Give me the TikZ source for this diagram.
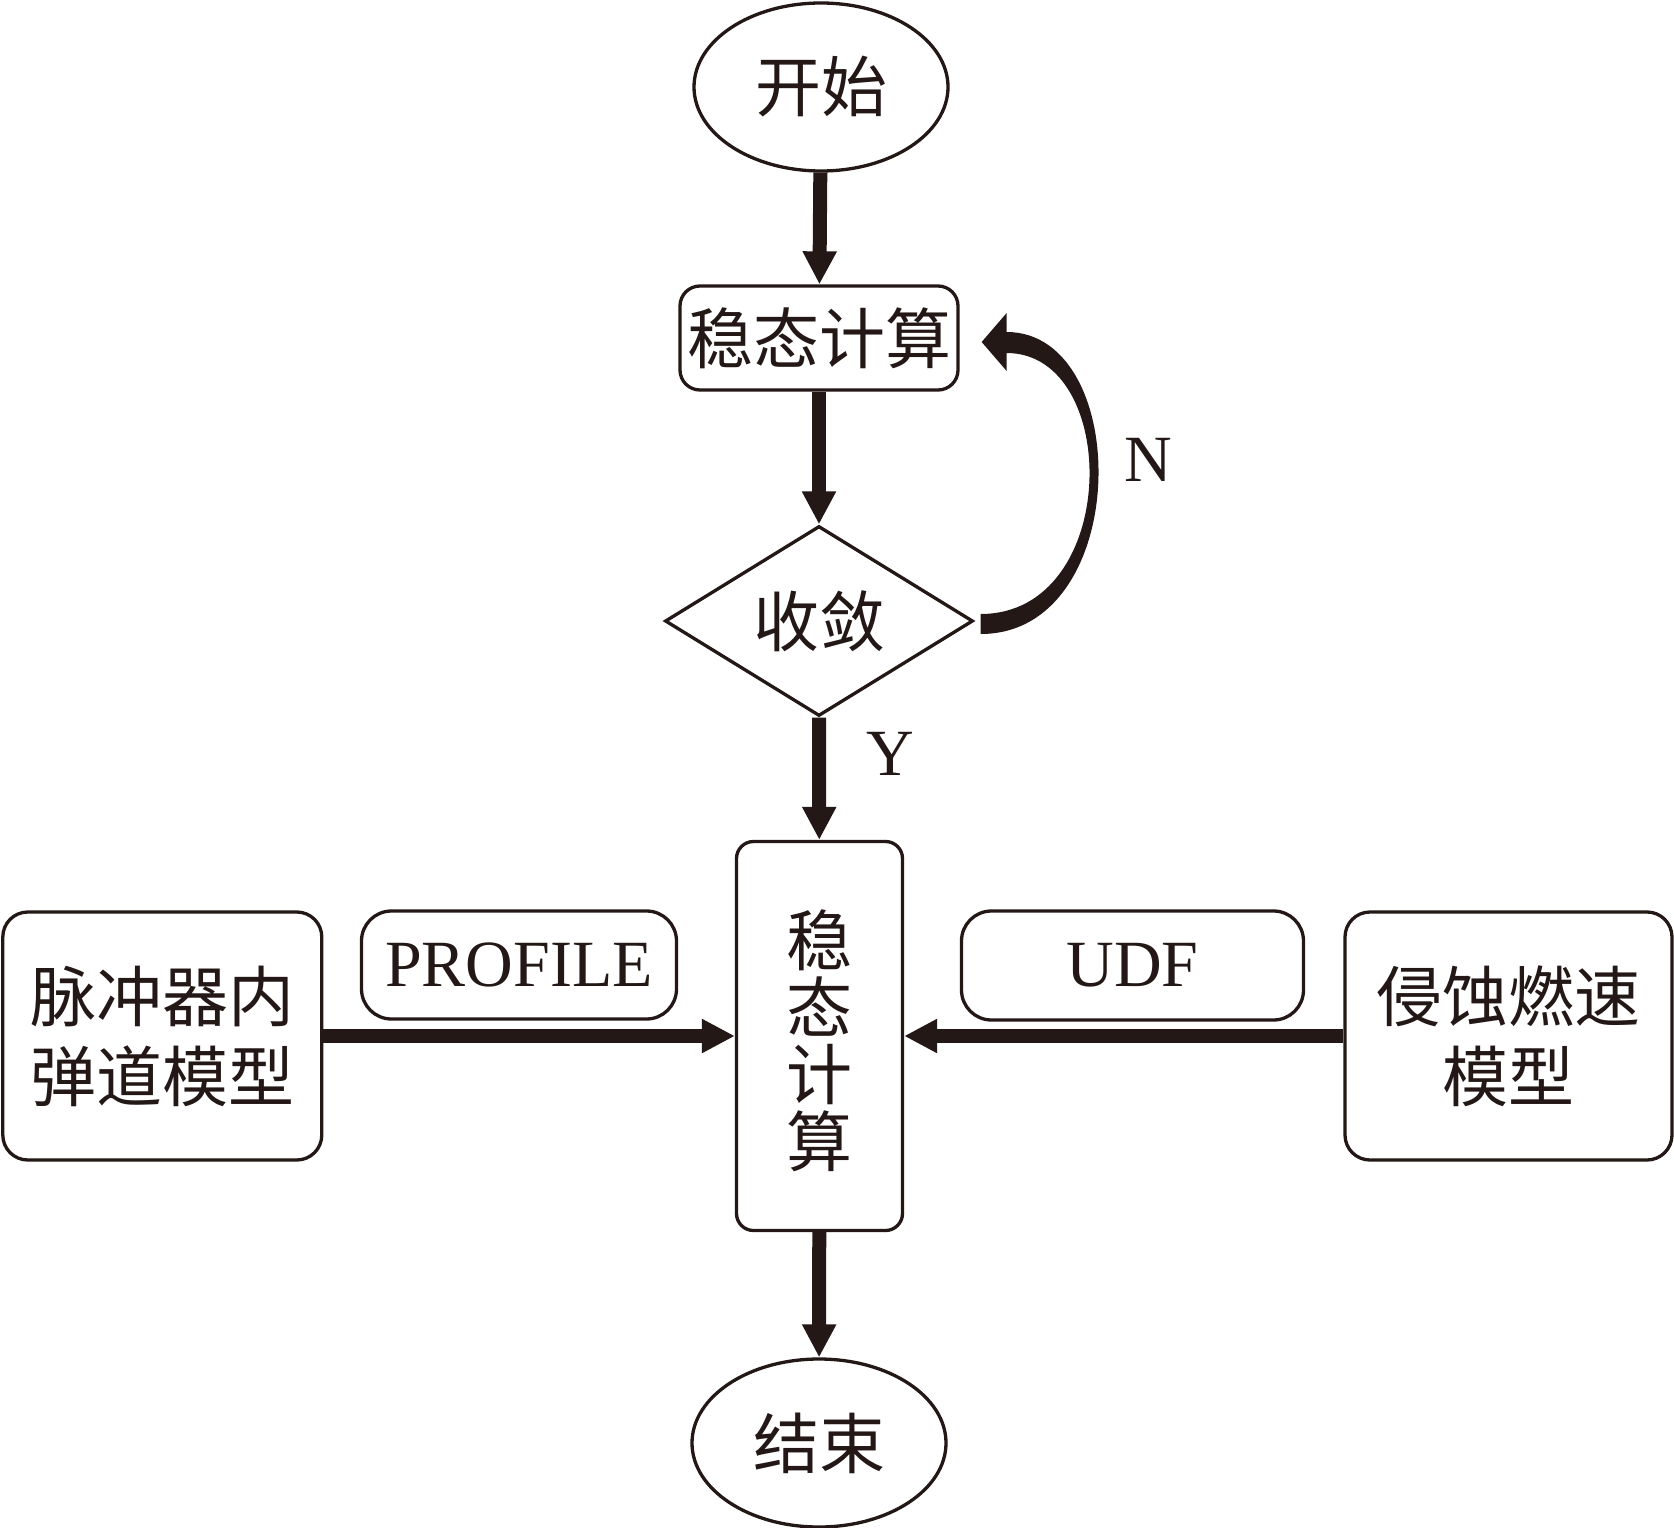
\documentclass[tikz,border=0pt]{standalone}
\usepackage{fontspec}
\setmainfont{Liberation Serif}
\newfontfamily\cjk{Noto Sans CJK SC}
\usetikzlibrary{shapes.geometric,arrows.meta,calc}
\definecolor{ink}{HTML}{231815}
\begin{document}
\begin{tikzpicture}[x=1pt,y=-1pt,ink,line width=3.3pt,
  every node/.style={inner sep=0pt,text=ink},
  cjkf/.style={font=\cjk\fontsize{66}{80}\selectfont},
  cjkv/.style={font=\cjk\fontsize{66}{67}\selectfont},
  latf/.style={font=\fontsize{66}{70}\selectfont},
  oval/.style={ellipse,draw=ink,minimum width=254pt,minimum height=168pt,cjkf},
  rbox/.style={rectangle,draw=ink,rounded corners=#1},
  flow/.style={line width=14pt,-{Triangle[width=32pt,length=33pt]}},
]
\fill[white] (0,0) rectangle (1674,1528);
\useasboundingbox (0,0) rectangle (1674,1528);

\node[oval] (start) at (821,87) {开始};
\node[rbox=20pt,cjkf,minimum width=278pt,minimum height=104pt] (s1) at (819,338) {稳态计算};
\node[diamond,draw=ink,aspect=1.62,minimum width=308pt,minimum height=190pt,cjkf] (dia) at (819,621) {收敛};
\node[rbox=17pt,minimum width=166pt,minimum height=389pt,
      label={[name=s2t,cjkv,align=center,yshift=-5pt]center:{稳\\态\\计\\算}}] (s2) at (819.5,1036) {};
\node[rbox=25pt,cjkf,align=center,minimum width=319pt,minimum height=248pt] (left) at (162.3,1036) {脉冲器内\\弹道模型};
\node[rbox=30pt,latf,minimum width=315pt,minimum height=108pt] (prof) at (519,965) {PROFILE};
\node[rbox=30pt,latf,minimum width=342pt,minimum height=109pt] (udf) at (1132.5,965.5) {UDF};
\node[rbox=25pt,cjkf,align=center,minimum width=327pt,minimum height=248pt] (right) at (1508.5,1036) {侵蚀燃速\\模型};
\node[oval] (end) at (819,1443) {结束};
\node[latf] (N) at (1148,460) {N};
\node[latf] (Y) at (890,754) {Y};

\draw[flow] (start) -- (s1);
\draw[flow] (s1) -- (dia);
\draw[flow] (dia) -- (s2);
\draw[flow] (s2) -- (end);
\draw[flow] (left) -- (s2);
\draw[flow] (right) -- (s2);

\coordinate (ls) at ($(dia.east)+(6,3)$);
\coordinate (le) at ($(s1.east)+(22,4)$);
\fill ($(ls)+(0,10)$) .. controls ($(ls)+(152,10)$) and ($(le)+(152,-10)$) .. ($(le)+(25,-10)$)
  -- ($(le)+(25,-29)$) -- (le) -- ($(le)+(25,29)$) -- ($(le)+(25,11)$)
  .. controls ($(le)+(140,11)$) and ($(ls)+(140,-10)$) .. ($(ls)+(0,-10)$) -- cycle;
\end{tikzpicture}
\end{document}
